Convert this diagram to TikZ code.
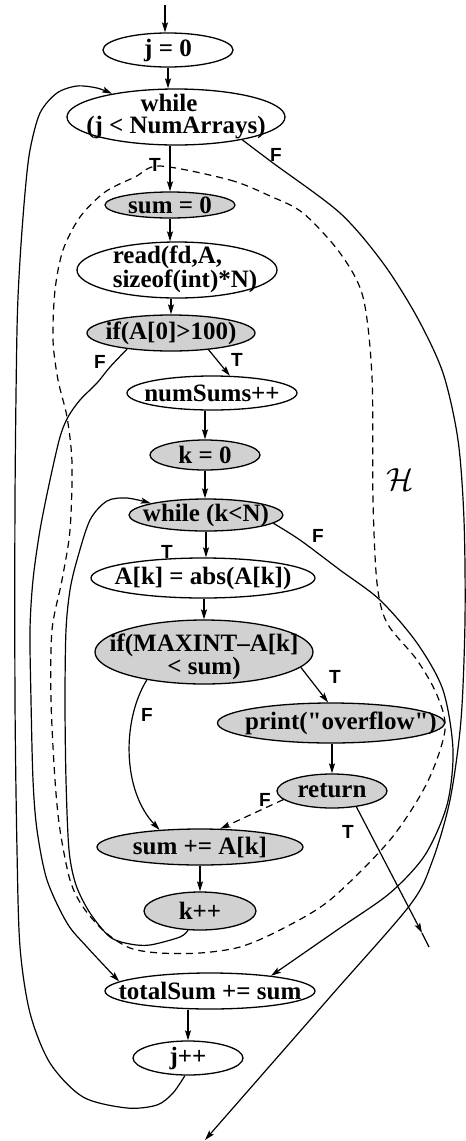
\documentclass[tikz,border=0pt]{standalone}
\usepackage{fontspec}
\setmainfont{Liberation Serif}
\setsansfont{Liberation Sans}
\usetikzlibrary{arrows.meta,shapes.geometric}
\begin{document}
\begin{tikzpicture}[x=1pt,y=-1pt,
  ell/.style={ellipse, draw, line width=1.3pt, inner sep=0pt},
  shd/.style={ell, fill=black!18},
  txt/.style={font=\fontsize{25}{21}\selectfont\bfseries, inner sep=0pt, align=center},
  lab/.style={font=\fontsize{19}{19}\selectfont\sffamily\bfseries, inner sep=0pt},
  con/.style={line width=1.2pt},
  arr/.style={con, -{Stealth[length=10pt,width=6pt,inset=2pt]}},
  hreg/.style={line width=1.2pt, dash pattern=on 7pt off 5pt}
]
\useasboundingbox (0,0) rectangle (466,1141);

% nodes
\node[ell, minimum width=130pt, minimum height=34pt] (j0) at (168,50) {};
\node[txt] (j0t) at (j0) {j = 0};
\node[ell, minimum width=218pt, minimum height=56pt] (wj) at (176,117) {};
\node[txt, font=\fontsize{25}{22}\selectfont\bfseries] (wjt) at (wj) {while\hspace*{14pt}\\(j < NumArrays)};
\node[shd, minimum width=130pt, minimum height=26pt] (sum0) at (170,205) {};
\node[txt] (sum0t) at (sum0) {sum = 0};
\node[ell, minimum width=200pt, minimum height=56pt] (read) at (177,270) {};
\node[txt, align=left] (readt) at (185,269) {read(fd,A,\\sizeof(int)*N)};
\node[shd, minimum width=168pt, minimum height=36pt] (ifA) at (171,333) {};
\node[txt] (ifAt) at (ifA) {if(A[0]>100)};
\node[ell, minimum width=170pt, minimum height=34pt] (numS) at (212,393) {};
\node[txt] (numSt) at (numS) {numSums++};
\node[shd, minimum width=110pt, minimum height=30pt] (k0) at (205,455) {};
\node[txt] (k0t) at (k0) {k = 0};
\node[shd, minimum width=154pt, minimum height=32pt] (wk) at (206,515) {};
\node[txt] (wkt) at (wk) {while (k<N)};
\node[ell, minimum width=224pt, minimum height=40pt] (abs) at (203,578) {};
\node[txt] (abst) at (abs) {A[k] = abs(A[k])};
\node[shd, minimum width=218pt, minimum height=64pt] (ifM) at (204,652) {};
\node[txt] (ifMt) at (204,657) {if(MAXINT–A[k]\\< sum)};
\node[shd, minimum width=227pt, minimum height=40pt] (prt) at (331,723) {};
\node[txt] (prtt) at (341,723) {print(\textquotedbl overflow\textquotedbl)};
\node[shd, minimum width=110pt, minimum height=34pt] (ret) at (332,791) {};
\node[txt] (rett) at (ret) {return};
\node[shd, minimum width=206pt, minimum height=36pt] (sumA) at (200,847) {};
\node[txt] (sumAt) at (sumA) {sum += A[k]};
\node[shd, minimum width=112pt, minimum height=38pt] (kpp) at (200,911) {};
\node[txt] (kppt) at (kpp) {k++};
\node[ell, minimum width=210pt, minimum height=36pt] (tot) at (210,991) {};
\node[txt] (tott) at (tot) {totalSum += sum};
\node[ell, minimum width=110pt, minimum height=34pt] (jpp) at (188,1058) {};
\node[txt] (jppt) at (jpp) {j++};

% free ends
\coordinate (start) at (165,5);
\coordinate (exitW) at (205,1140);
\coordinate (exitT) at (422,933);
\coordinate (exitTs) at (429,947);

% straight edges
\draw[arr] (start) -- (j0.north -| start);
\draw[arr] (j0.south) -- (j0.south |- wj.north);
\draw[arr] (wj.south -| sum0.north) -- (sum0.north);
\draw[arr] (sum0.south) -- (sum0.south |- read.north);
\draw[arr] (read.south -| ifA.north) -- (ifA.north);
\draw[arr] (ifA.-24) -- (numS.44);
\draw[arr] (numS.south -| k0.north) -- (k0.north);
\draw[arr] (k0.south) -- (k0.south |- wk.north);
\draw[arr] (wk.south) -- (wk.south |- abs.north);
\draw[arr] (abs.south -| ifM.north) -- (ifM.north);
\draw[arr] (ifM.-9) -- (prt.98);
\draw[arr] (prt.south -| ret.north) -- (ret.north);
\draw[arr] (sumA.south) -- (sumA.south |- kpp.north);
\draw[arr] (tot.south -| jpp.north) -- (jpp.north);
\draw[arr] (ret.-33) -- (exitT);
\draw[con] (exitT) -- (exitTs);
\draw[arr, dash pattern=on 7pt off 5pt] (ret.190) -- (sumA.42);
\draw[arr] (ifM.206) .. controls (122,720) and (122,790) .. (sumA.157);

% curved edges
\draw[arr] plot[smooth] coordinates {(kpp.238) (180,937) (150,945) (130,944) (110,937) (90,913) (76,885) (69,850) (66,780) (65,700) (66,630) (70,590) (77,560) (90,520) (107,501) (127,498) (wk.168)};
\draw[arr] plot[smooth] coordinates {(ifA.200) (110,367) (97,383) (80,400) (68,417) (60,437) (50,480) (40,530) (33,580) (30,630) (31,700) (33,780) (37,830) (47,880) (67,923) (87,947) (tot.174)};
\draw[arr] plot[smooth] coordinates {(jpp.-100) (173,1093) (157,1105) (127,1108) (83,1097) (50,1063) (30,1013) (20,947) (17,850) (15,700) (15,500) (17,330) (20,260) (25,193) (30,150) (40,113) (57,93) (77,86) (97,88) (wj.160)};
\draw[arr] plot[smooth] coordinates {(wj.-19) (273,163) (340,213) (383,263) (417,317) (443,373) (458,440) (464,520) (465,620) (461,720) (450,800) (432,862) (410,905) (330,997) (exitW)};
\draw[arr] plot[smooth] coordinates {(wk.-7) (300,540) (340,570) (380,600) (417,643) (443,690) (453,750) (447,805) (425,855) (390,893) (340,928) (tot.14)};

% region H
\draw[hreg] plot[smooth cycle] coordinates {(160,166) (230,180) (270,196) (303,213) (340,253) (363,297) (372,377) (373,500) (377,583) (387,623) (417,660) (437,695) (445,730) (427,783) (390,840) (330,900) (280,930) (240,947) (200,953) (160,953) (130,948) (105,932) (83,907) (70,880) (60,830) (55,780) (51,700) (52,630) (62,580) (70,530) (72,463) (67,417) (58,380) (53,340) (55,290) (63,250) (80,217) (105,192) (135,177)};
\node[scale=3.2, inner sep=0pt] (H) at (400,480) {$\mathcal{H}$};

% labels
\node[lab] (l1) at (155,165) {T};
\node[lab] (l2) at (276,155) {F};
\node[lab] (l3) at (100,362) {F};
\node[lab] (l4) at (237,360) {T};
\node[lab] (l5) at (318,536) {F};
\node[lab] (l6) at (167,552) {T};
\node[lab] (l7) at (335,677) {T};
\node[lab] (l8) at (147,715) {F};
\node[lab] (l9) at (265,800) {F};
\node[lab] (l10) at (348,832) {T};
\end{tikzpicture}
\end{document}
